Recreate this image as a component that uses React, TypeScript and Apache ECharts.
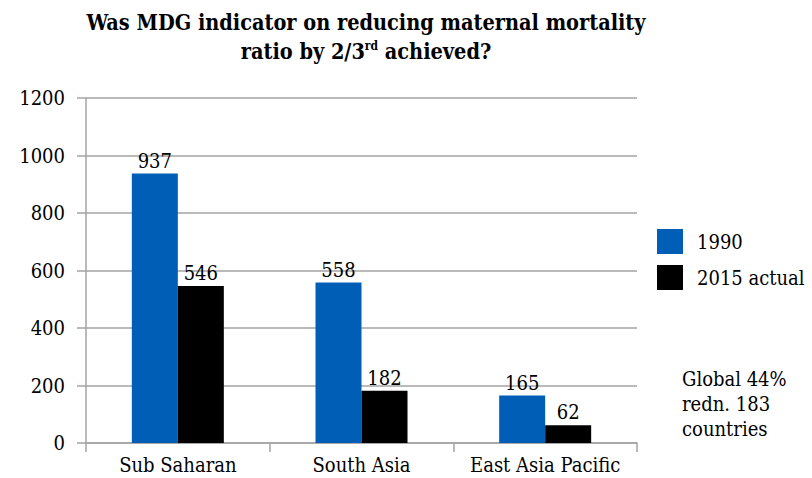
import React, { useEffect, useRef } from "react";
import * as echarts from "echarts";

const categories = ["Sub Saharan", "South Asia", "East Asia Pacific"];
const values1990 = [937, 558, 165];
const values2015 = [546, 182, 62];
const seriesNames = ["1990", "2015 actual"];
const titleLine1 = "Was MDG indicator on reducing maternal mortality";
const noteLines = ["Global 44%", "redn. 183", "countries"];

const FONT = "'DejaVu Serif Condensed', 'DejaVu Serif', serif";
const BLUE = "#005eb6";
const GRID = "#a3a3a3";

export default function App() {
  const ref = useRef<HTMLDivElement>(null);
  useEffect(() => {
    if (!ref.current) return;
    const chart = echarts.init(ref.current, null, { renderer: "svg" });
    const label = {
      show: true,
      position: "top" as const,
      distance: 3,
      color: "#000",
      fontSize: 20,
      fontFamily: FONT,
    };
    chart.setOption({
      animation: false,
      backgroundColor: "#fff",
      textStyle: { fontFamily: FONT },
      grid: { left: 86, right: 175, top: 98, bottom: 35, containLabel: false },
      legend: {
        orient: "vertical",
        left: 657,
        top: 229,
        padding: 0,
        itemWidth: 26,
        itemHeight: 25,
        itemGap: 11,
        icon: "rect",
        data: seriesNames,
        textStyle: { fontSize: 20, fontFamily: FONT, color: "#000", padding: [0, 0, 0, 9] },
      },
      xAxis: {
        type: "category",
        data: categories,
        axisLine: { lineStyle: { color: GRID, width: 1.5 } },
        axisTick: { show: true, interval: 0, length: 9, lineStyle: { color: GRID, width: 1.5 } },
        axisLabel: { interval: 0, fontSize: 20, fontFamily: FONT, color: "#000", margin: 12 },
      },
      yAxis: {
        type: "value",
        min: 0,
        max: 1200,
        interval: 200,
        axisLine: { show: true, lineStyle: { color: GRID, width: 1.5 } },
        axisTick: { show: true, inside: false, length: 9, lineStyle: { color: GRID, width: 1.5 } },
        axisLabel: {
          fontSize: 20,
          fontFamily: FONT,
          color: "#000",
          margin: 21,
          formatter: (v: number) => String(v),
        },
        splitLine: { lineStyle: { color: GRID, width: 1.5 } },
      },
      series: [
        {
          name: seriesNames[0],
          type: "bar",
          data: values1990,
          itemStyle: { color: BLUE },
          barWidth: 46,
          barGap: "0%",
          label,
        },
        {
          name: seriesNames[1],
          type: "bar",
          data: values2015,
          itemStyle: { color: "#000" },
          barWidth: 46,
          barGap: "0%",
          label,
        },
      ],
      graphic: [
        {
          type: "text",
          x: 366,
          y: 11,
          style: {
            text: titleLine1,
            fill: "#000",
            font: `bold 21.5px ${FONT}`,
            textAlign: "center",
          },
        },
        {
          type: "text",
          x: 366,
          y: 40,
          style: {
            text: "{n|ratio by 2/3}{s|rd}{n| achieved?}",
            fill: "#000",
            textAlign: "center",
            rich: {
              n: { fontSize: 21.5, fontWeight: "bold", fontFamily: FONT, fill: "#000", verticalAlign: "bottom" },
              s: { fontSize: 12, fontWeight: "bold", fontFamily: FONT, fill: "#000", verticalAlign: "top" },
            },
          },
        },
        {
          type: "text",
          x: 682,
          y: 366,
          style: {
            text: noteLines.join("\n"),
            fill: "#000",
            font: `20px ${FONT}`,
            lineHeight: 25,
          },
        },
      ],
    });
    return () => chart.dispose();
  }, []);
  return (
    <div
      ref={ref}
      style={{ position: "fixed", left: 0, top: 0, width: 812, height: 478 }}
    />
  );
}
